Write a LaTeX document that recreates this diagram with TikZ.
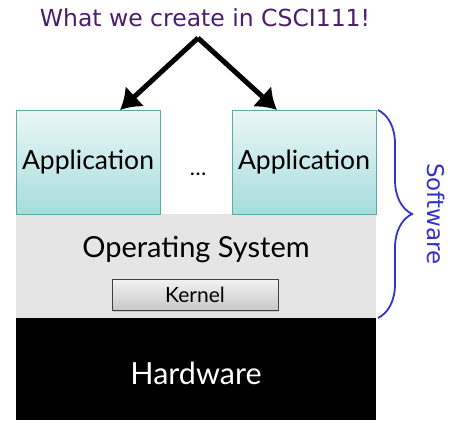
\documentclass[tikz,border=0pt]{standalone}
\usepackage{fontspec}
\setmainfont{Lato}
\newfontfamily\verd{DejaVu Sans}
\usetikzlibrary{arrows.meta,decorations.pathreplacing,shadows}
\definecolor{titlepurple}{HTML}{4B1D6B}
\definecolor{appTop}{HTML}{EAF7F7}
\definecolor{appBot}{HTML}{A6DCDB}
\definecolor{appBorder}{HTML}{5AAAA8}
\definecolor{osgray}{HTML}{E5E5E5}
\definecolor{braceblue}{HTML}{3333CC}
\tikzset{
  appbox/.style={draw=appBorder, line width=1pt, top color=appTop, bottom color=appBot,
    minimum width=144pt, minimum height=104pt, inner sep=0pt},
  apptext/.style={font=\fontsize{26.5}{30}\selectfont},
  bigarrow/.style={line width=5pt, -{Latex[length=20pt,width=28pt]}},
}
\begin{document}
\begin{tikzpicture}[x=1pt,y=-1pt]
\useasboundingbox (0,0) rectangle (452,425);
% title
\node[text=titlepurple, font=\verd\fontsize{23.5}{26}\selectfont] (title) at (205,18) {What we create in CSCI111!};
\coordinate (apex) at (198,38);
% OS
\node[fill=osgray, minimum width=360pt, minimum height=104pt, inner sep=0pt, anchor=north west] (os) at (16,214) {};
\node[font=\fontsize{29}{32}\selectfont] (ostext) at (196,250) {Operating System};
\node[draw=black!75, line width=0.8pt, top color=white!95!black, bottom color=black!22, drop shadow={opacity=0.3, shadow xshift=1pt, shadow yshift=-1pt},
  minimum width=166pt, minimum height=31pt, inner sep=0pt, font=\fontsize{21}{24}\selectfont] (kernel) at (195,295) {Kernel};
% hardware
\node[fill=black, minimum width=360pt, minimum height=102pt, inner sep=0pt, anchor=north west] (hw) at (16,318) {};
\node[text=white, font=\fontsize{30.5}{34}\selectfont] (hwtext) at (196,373) {Hardware};
% apps
\node[appbox, anchor=north west] (app1) at (16,110) {};
\node[apptext] (app1t) at (88,162) {Application};
\node[appbox, anchor=north west] (app2) at (232,110) {};
\node[apptext] (app2t) at (304,162) {Application};
\node[font=\fontsize{22}{26}\selectfont] (dots) at (198,174) {\dots};
% arrows
\draw[bigarrow] (apex) -- (app1.north -| 120,0);
\draw[bigarrow] (apex) -- (app2.north -| 277,0);
% brace
\coordinate (bt) at (378,110);
\coordinate (bb) at (378,318);
\draw[braceblue, line width=1.8pt, decorate, decoration={brace, amplitude=34pt, raise=0pt}] (bt) -- (bb);
\node[text=braceblue, rotate=-90, font=\verd\fontsize{23}{26}\selectfont] (sw) at (436,214) {Software};
\end{tikzpicture}
\end{document}
